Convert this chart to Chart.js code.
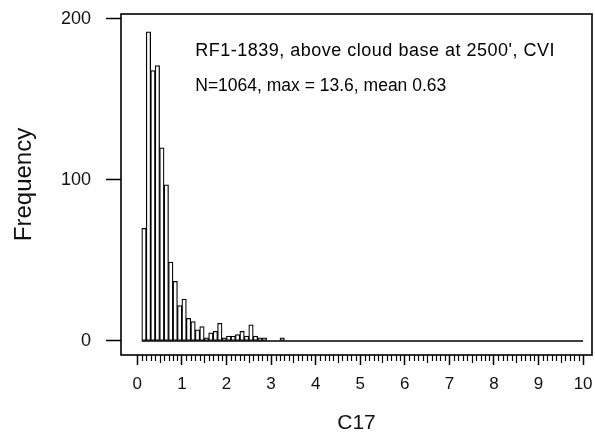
<!DOCTYPE html>
<html><head><meta charset="utf-8">
<script src="https://cdn.jsdelivr.net/npm/chart.js@4"></script>
<style>html,body{margin:0;padding:0;background:#fff;}</style>
</head><body>
<canvas id="c" width="595" height="434"></canvas>
<script>
// ---- data ----
const binLow = [0.1,0.2,0.3,0.4,0.5,0.6,0.7,0.8,0.9,1.0,1.1,1.2,1.3,1.4,1.5,1.6,1.7,1.8,1.9,2.0,2.1,2.2,2.3,2.4,2.5,2.6,2.7,2.8,2.9,3.0,3.1,3.2];
const counts = [70,192,168,171,120,97,49,37,22,26,14,12,7,9,2,5,6,11,2,3,3,4,6,3,10,3,2,2,0,0,0,2];
const binWidth = 0.1;
const xTickValues = [0,1,2,3,4,5,6,7,8,9,10];
const yTickValues = [0,100,200];
const baselineRange = [0.1, 10];
const noteLines = ["RF1-1839, above cloud base at 2500', CVI", "N=1064, max = 13.6, mean 0.63"];
const xTitle = "C17";
const yTitle = "Frequency";

const FONT = "'Liberation Sans', Arial, sans-serif";

const barData = binLow.map((lo, i) => ({x: lo + binWidth / 2, y: counts[i]}));
const baseData = baselineRange.map(v => ({x: v, y: 0}));

const framePlugin = {
  id: 'frame',
  afterDraw(chart) {
    const {ctx, chartArea: a, scales: {x}} = chart;
    ctx.save();
    ctx.strokeStyle = '#000';
    ctx.lineWidth = 1.2;
    for (let i = 1; i < 100; i++) {
      if (i % 10 === 0) continue;
      const px = Math.round(x.getPixelForValue(i / 10)) + 0.5;
      const len = (i % 5 === 0) ? 8 : 6;
      ctx.beginPath();
      ctx.moveTo(px, a.bottom);
      ctx.lineTo(px, a.bottom + len);
      ctx.stroke();
    }
    ctx.lineWidth = 1.6;
    ctx.strokeRect(a.left, a.top, a.right - a.left, a.bottom - a.top);
    ctx.restore();
  },
  afterDatasetsDraw(chart) {
    const {ctx, scales: {x, y}} = chart;
    ctx.save();
    ctx.fillStyle = '#000';
    ctx.textBaseline = 'middle';
    ctx.textAlign = 'left';
    const notes = [
      {text: noteLines[0], x: 1.3, y: 180, size: 18, spacing: '0.5px'},
      {text: noteLines[1], x: 1.3, y: 158, size: 17.5, spacing: '0px'}
    ];
    notes.forEach(n => {
      ctx.font = n.size + 'px ' + FONT;
      if ('letterSpacing' in ctx) ctx.letterSpacing = n.spacing;
      ctx.fillText(n.text, x.getPixelForValue(n.x), y.getPixelForValue(n.y));
    });
    ctx.restore();
  }
};

new Chart(document.getElementById('c'), {
  type: 'bar',
  data: {
    datasets: [
      {
        type: 'bar',
        data: barData,
        backgroundColor: '#fff',
        borderColor: '#000',
        borderWidth: 1.25,
        borderSkipped: false,
        barPercentage: 1,
        categoryPercentage: 1,
        order: 2
      },
      {
        type: 'line',
        data: baseData,
        borderColor: '#000',
        borderWidth: 1.5,
        pointRadius: 0,
        fill: false,
        order: 1
      }
    ]
  },
  options: {
    responsive: false,
    animation: false,
    devicePixelRatio: 1,
    layout: {padding: {top: 14, right: 3, bottom: 0, left: 0}},
    plugins: {legend: {display: false}, tooltip: {enabled: false}},
    scales: {
      x: {
        type: 'linear',
        min: -0.366,
        max: 10.2,
        offset: false,
        afterBuildTicks: s => { s.ticks = xTickValues.map(v => ({value: v})); },
        afterFit: s => { s.height = 79; s.paddingLeft = 0; s.paddingRight = 0; },
        grid: {offset: false, drawOnChartArea: false, drawTicks: true, tickLength: 10, tickWidth: 1.5, tickColor: '#000', color: '#000'},
        border: {display: false},
        ticks: {autoSkip: false, maxRotation: 0, padding: 9, color: '#111', font: {family: FONT, size: 17}, callback: v => String(v)},
        title: {display: true, text: xTitle, color: '#111', font: {family: FONT, size: 21, lineHeight: 1}, padding: {top: 0, bottom: 0}}
      },
      y: {
        type: 'linear',
        min: -8.7,
        max: 203.1,
        afterBuildTicks: s => { s.ticks = yTickValues.map(v => ({value: v})); },
        afterFit: s => { s.width = 121; s.paddingTop = 0; s.paddingBottom = 0; },
        grid: {drawOnChartArea: false, drawTicks: true, tickLength: 15, tickWidth: 1.5, tickColor: '#000', color: '#000'},
        border: {display: false},
        ticks: {padding: 15, color: '#111', font: {family: FONT, size: 18}, callback: v => String(v)},
        title: {display: true, text: yTitle, color: '#111', font: {family: FONT, size: 24, lineHeight: 1}, padding: {top: 12, bottom: 0}}
      }
    }
  },
  plugins: [framePlugin]
});
</script>
</body></html>
